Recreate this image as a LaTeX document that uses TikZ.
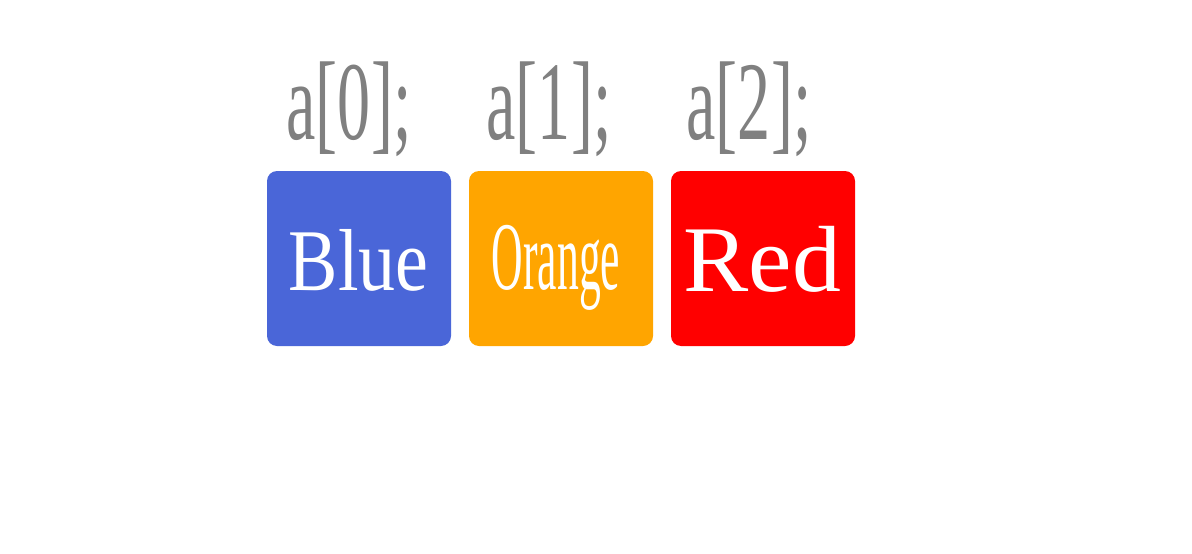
\documentclass[tikz,border=0pt]{standalone}
\usepackage{fontspec}
\setmainfont{Liberation Serif}
\definecolor{cblue}{HTML}{4A66D8}
\definecolor{corange}{HTML}{FFA500}
\definecolor{cred}{HTML}{FF0000}
\definecolor{cgray}{HTML}{808080}
\begin{document}
\begin{tikzpicture}[x=1pt,y=-1pt,
  cell/.style={rounded corners=10pt},
  lbl/.style={anchor=base,inner sep=0pt,text=cgray},
  val/.style={anchor=base,inner sep=0pt,text=white}]
\useasboundingbox (0,0) rectangle (1192,554);
\fill[cblue,cell] (267,171) rectangle (451,346);
\fill[corange,cell] (469,171) rectangle (653,346);
\fill[cred,cell] (671,171) rectangle (855,346);
\node[lbl] (l0) at (349,139) {\scalebox{0.59}[1]{\fontsize{112}{112}\selectfont a[0];}};
\node[lbl] (l1) at (549,139) {\scalebox{0.59}[1]{\fontsize{112}{112}\selectfont a[1];}};
\node[lbl] (l2) at (749,139) {\scalebox{0.59}[1]{\fontsize{112}{112}\selectfont a[2];}};
\node[val] (v0) at (358.5,290) {\scalebox{0.84}[1]{\fontsize{88}{88}\selectfont Blue}};
\node[val] (v1) at (556,289) {\scalebox{0.45}[1]{\fontsize{97}{97}\selectfont Orange}};
\node[val] (v2) at (762.5,291) {\scalebox{1.04}[1]{\fontsize{94}{94}\selectfont Red}};
\end{tikzpicture}
\end{document}
